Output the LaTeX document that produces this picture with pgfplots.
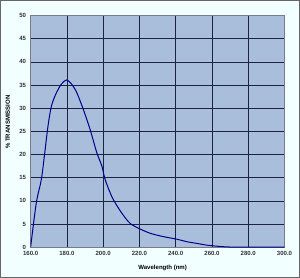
\documentclass[border=0pt]{standalone}
\usepackage{pgfplots}
\pgfplotsset{compat=1.18}
\usepackage{fontspec}
\setmainfont{Liberation Sans}
\definecolor{outerbg}{HTML}{F2FFFF}
\definecolor{plotbg}{HTML}{A9BEDA}
\definecolor{gridc}{HTML}{1C2340}
\definecolor{curve}{HTML}{00008C}
\begin{document}
\begin{tikzpicture}[x=1pt,y=1pt]
\path[fill=outerbg,draw=gray!80!black,line width=0.8pt] (1,3) rectangle (298,278);
\begin{axis}[
  at={(31pt,33pt)}, anchor=south west,
  scale only axis, width=252pt, height=230pt,
  xmin=160, xmax=300, ymin=0, ymax=50,
  xtick={160,180,...,300}, ytick={0,5,...,50},
  xticklabel style={/pgf/number format/.cd,fixed,fixed zerofill,precision=1},
  /pgf/number format/assume math mode=true,
  ticklabel style={font=\fontsize{6}{7}\selectfont\bfseries, text=black!80},
  axis background/.style={fill=plotbg},
  grid=major, major grid style={gridc, line width=0.6pt},
  axis line style={gridc!60, line width=0.6pt},
  tick style={draw=none},
  xlabel={Wavelength (nm)},
  ylabel={\% TRANSMISSION},
  label style={font=\fontsize{6}{7}\selectfont\bfseries},
  xlabel style={at={(axis description cs:0.52,-0.06)}, anchor=north},
  ylabel style={at={(axis description cs:-0.09,0.54)}, anchor=center},
  xticklabel shift=1pt, yticklabel shift=1pt,
]
\addplot[curve, line width=1pt, smooth, tension=0.5] coordinates {
(160,0) (163.1,9.5) (165.9,14.6) (167.8,20.4) (169.6,26.2) (171.5,30.5)
(174.3,33.4) (177,35.2) (179.8,36.1) (182.6,35.2) (185.4,33.4) (189,29.8)
(192.8,25.4) (196.5,20.4) (199.3,17.5) (201.1,14.6) (204.8,10.9) (208.5,8.4)
(211.5,6.7) (215,5.1) (220,4) (226,3) (233,2.3) (241,1.7) (246,1.2) (252,0.8) (258,0.4) (266.7,0.1) (275,0) (300,0)
};
\end{axis}
\end{tikzpicture}
\end{document}
